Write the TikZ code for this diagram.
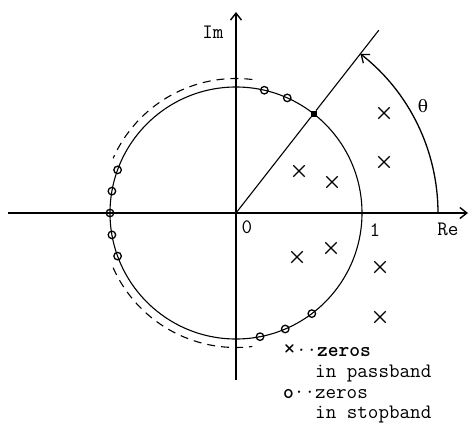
\documentclass[tikz,border=0pt]{standalone}
\usepackage{fontspec}
\newfontfamily\grkfont{DejaVu Serif}
\usetikzlibrary{
    arrows.meta,                      % puntas (Straight Barb)
    shapes.misc                       % cross out
}
\begin{document}
\begin{tikzpicture}[
        x=1pt, y=1pt, >={Straight Barb[length=7pt,width=11pt]},
        font=\fontsize{20.5}{22}\selectfont\ttfamily,
        axis/.style={line width=1.4pt},
        unit/.style={line width=1.1pt},
        pole/.style={cross out, draw, line width=1.3pt, minimum size=10pt, inner sep=0pt},
        zer/.style ={circle, draw, line width=1.3pt, minimum size=7.5pt, inner sep=0pt},
        key/.style ={anchor=base west, inner sep=0pt}]
        \useasboundingbox (-236,-211) rectangle (233,213);
        \coordinate (O)  at (0,0);
        \coordinate (xl) at (-228,0);
        \coordinate (xr) at (232,0);
        \coordinate (yb) at (0,-167);
        \coordinate (yt) at (0,201);
        \draw[axis,->] (xl) -- (xr);
        \draw[axis,->] (yb) -- (yt);
        \draw[unit] (O) circle[radius=126];
        \draw[unit, dash pattern=on 8pt off 6pt] (83:134.5) arc[start angle=83, end angle=156, radius=134.5];
        \draw[unit, dash pattern=on 8pt off 6pt] (-156:134.5) arc[start angle=-156, end angle=-83, radius=134.5];
        % ray and angle
        \node[fill, minimum size=6pt, inner sep=0pt] (w) at (52:126) {};
        \coordinate (ray) at (52:232);
        \coordinate (th0) at (202,0);
        \draw[unit] (O) -- (w) -- (ray);
        \draw[unit, line width=1.3pt, ->] (th0) arc[start angle=0, end angle=52, radius=202];
        % zeros in passband
        \node[pole] (p1) at (63,42) {};
        \node[pole] (p2) at (96,31) {};
        \node[pole] (p3) at (148,100) {};
        \node[pole] (p4) at (148,51) {};
        \node[pole] (p5) at (61,-44) {};
        \node[pole] (p6) at (95,-35) {};
        \node[pole] (p7) at (144,-54) {};
        \node[pole] (p8) at (144,-104) {};
        % zeros in stopband
        \foreach \a [count=\i] in {77,66,160,170,180,-170,-160,-79,-67,-53}
            \node[zer] (z\i) at (\a:126) {};
        % labels
        \node (im) at (-23,181) {Im};
        \node (re) at (212,-16) {Re};
        \node (zero) at (11,-14) {0};
        \node (one) at (139,-17) {1};
        \node (th) at (187,107) {\grkfont\fontsize{17}{17}\selectfont θ};
        \node[key] (key1)  at (47,-143) {{\fontsize{25}{25}\selectfont ×}··\textbf{zeros}};
        \node[key] (key1b) at (79,-164) {in passband};
        \node[key] (key2)  at (47,-185) {\textbf{o}··zeros};
        \node[key] (key2b) at (79,-205) {in stopband};
    \end{tikzpicture}
\end{document}
